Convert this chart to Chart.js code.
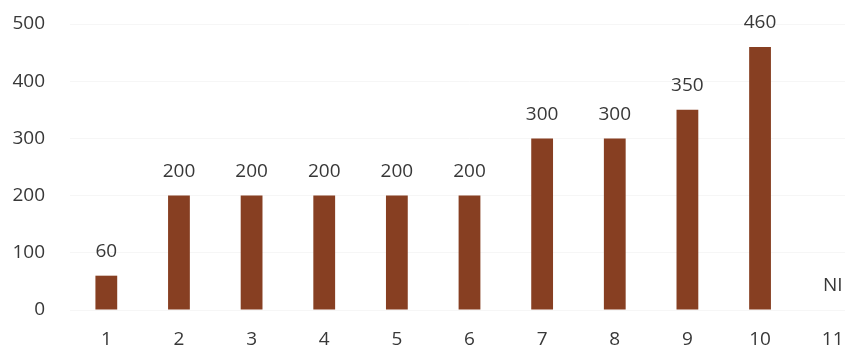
<!DOCTYPE html>
<html>
<head>
<meta charset="utf-8">
<script src="https://cdn.jsdelivr.net/npm/chart.js@4/dist/chart.umd.min.js"></script>
<style>
  html, body { margin: 0; padding: 0; background: #fff; overflow: hidden; }
  #wrap { width: 845px; height: 356px; overflow: hidden; }
</style>
</head>
<body>
<div id="wrap"><canvas id="chart" width="872" height="356"></canvas></div>
<script>
var categories = ['1', '2', '3', '4', '5', '6', '7', '8', '9', '10', '11'];
var values = [60, 200, 200, 200, 200, 200, 300, 300, 350, 460, null];
var valueLabels = ['60', '200', '200', '200', '200', '200', '300', '300', '350', '460', 'NI'];
var yTicks = [0, 100, 200, 300, 400, 500];

var textColor = '#383838';
var fontFamily = "'Open Sans', sans-serif";

// writes the value (or NI) above each bar
var barLabels = {
    id: 'barLabels',
    afterDatasetsDraw: function (chart) {
        var ctx = chart.ctx;
        var yScale = chart.scales.y;
        var meta = chart.getDatasetMeta(0);
        ctx.save();
        ctx.font = '19px ' + fontFamily;
        ctx.fillStyle = textColor;
        ctx.textAlign = 'center';
        ctx.textBaseline = 'middle';
        meta.data.forEach(function (bar, i) {
            var v = values[i] == null ? 0 : values[i];
            var y = yScale.getPixelForValue(v) - 24;
            ctx.fillText(valueLabels[i], bar.x, y);
        });
        ctx.restore();
    }
};

new Chart(document.getElementById('chart'), {
    type: 'bar',
    data: {
        labels: categories,
        datasets: [{
            data: values,
            backgroundColor: '#873f22',
            barPercentage: 0.3,
            categoryPercentage: 1
        }]
    },
    options: {
        responsive: false,
        animation: false,
        layout: { padding: { top: 24, right: 3, left: 0, bottom: 0 } },
        plugins: {
            legend: { display: false },
            tooltip: { enabled: false }
        },
        scales: {
            x: {
                grid: { display: false, drawTicks: false },
                border: { display: false },
                ticks: {
                    color: textColor,
                    font: { family: fontFamily, size: 19 },
                    padding: 18,
                    maxRotation: 0
                },
                afterFit: function (scale) { scale.height = 46; }
            },
            y: {
                min: 0,
                max: 500,
                afterBuildTicks: function (scale) {
                    scale.ticks = yTicks.map(function (v) { return { value: v }; });
                },
                grid: { color: '#f6f6f6', drawTicks: false },
                border: { display: false },
                ticks: {
                    color: textColor,
                    font: { family: fontFamily, size: 19 },
                    padding: 25
                },
                afterFit: function (scale) {
                    scale.width = 70;
                    // tick padding would otherwise push the plot top down
                    scale.paddingTop = 0;
                    scale.paddingBottom = 0;
                }
            }
        }
    },
    plugins: [barLabels]
});
</script>
</body>
</html>
